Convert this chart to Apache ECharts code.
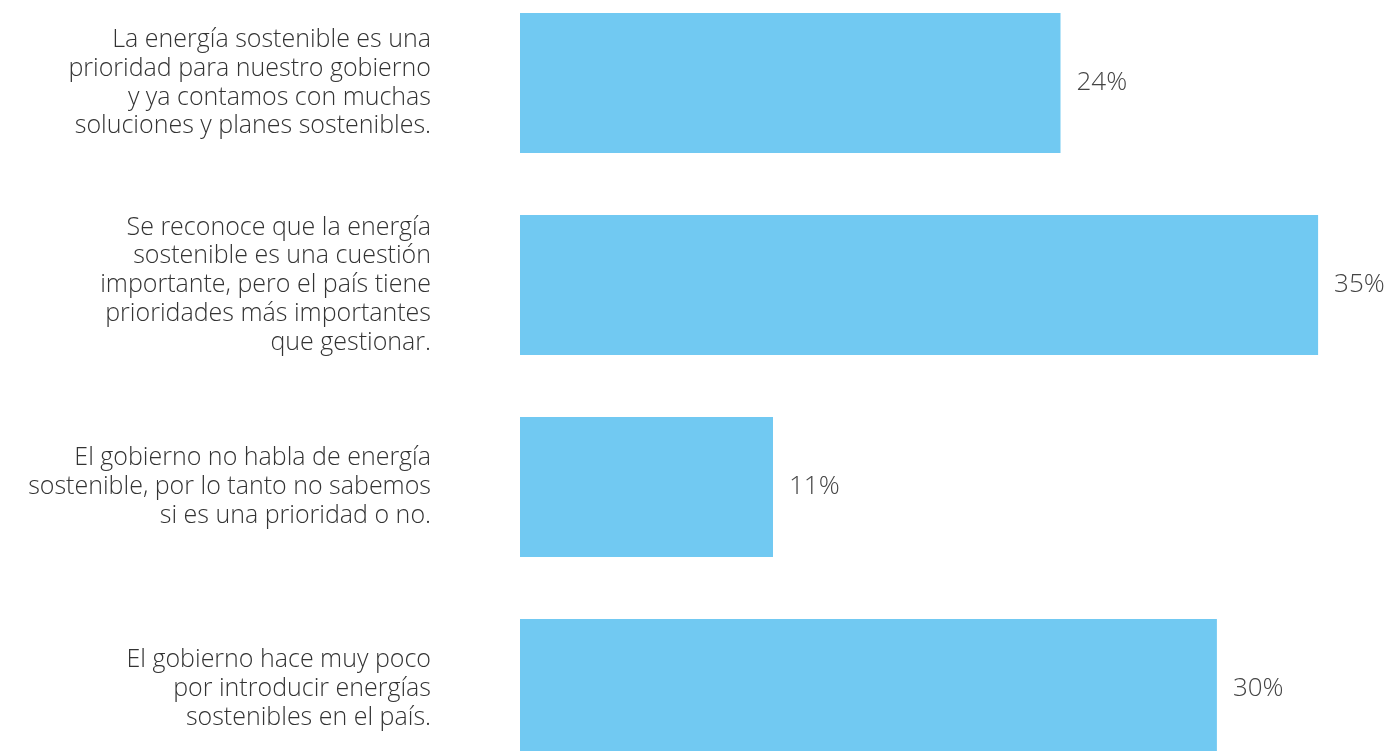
<!DOCTYPE html>
<html><head><meta charset="utf-8">
<script src="https://cdn.jsdelivr.net/npm/echarts@6/dist/echarts.min.js"></script>
<style>html,body{margin:0;padding:0;background:#fff}#c{width:1388px;height:751px}</style>
</head><body><div id="c"></div>
<script>
const categories = [
  "La energía sostenible es una\nprioridad para nuestro gobierno\ny ya contamos con muchas\nsoluciones y planes sostenibles.",
  "Se reconoce que la energía\nsostenible es una cuestión\nimportante, pero el país tiene\nprioridades más importantes\nque gestionar.",
  "El gobierno no habla de energía\nsostenible, por lo tanto no sabemos\nsi es una prioridad o no.",
  "El gobierno hace muy poco\npor introducir energías\nsostenibles en el país."
];
const values = [23.5, 34.7, 11.0, 30.3];

const chart = echarts.init(document.getElementById('c'));
chart.setOption({
  animation: false,
  grid: { left: 520, right: 40, top: -18, height: 808, containLabel: false, outerBoundsMode: 'none' },
  xAxis: { type: 'value', min: 0, max: 36, show: false },
  yAxis: {
    type: 'category', data: categories, inverse: true,
    axisLine: { show: false }, axisTick: { show: false }, splitLine: { show: false },
    axisLabel: {
      margin: 89, align: 'right', fontFamily: 'Open Sans', fontWeight: 300,
      fontSize: 25, lineHeight: 28.8, color: '#333'
    }
  },
  series: [{
    type: 'bar', data: values, barCategoryGap: '30.7%',
    itemStyle: { color: '#71C9F2' },
    label: {
      show: true, position: 'right', distance: 16,
      formatter: p => Math.round(p.value) + '%',
      fontFamily: 'Open Sans', fontWeight: 300, fontSize: 26, color: '#444'
    }
  }]
});
</script></body></html>
